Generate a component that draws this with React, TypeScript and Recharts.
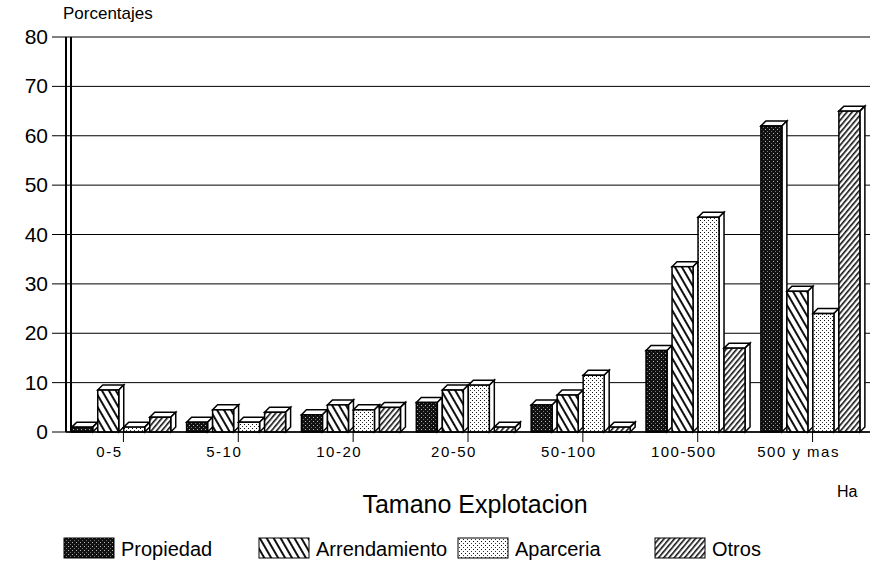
import React from 'react';
import { BarChart, Bar, XAxis, YAxis, CartesianGrid } from 'recharts';

const categories = ['0-5', '5-10', '10-20', '20-50', '50-100', '100-500', '500 y mas'];
const propiedad = [2, 3, 4.5, 7, 6.5, 17.5, 63];
const arrendamiento = [9.5, 5.5, 6.5, 9.5, 8.5, 34.5, 29.5];
const aparceria = [2, 3, 5.5, 10.5, 12.5, 44.5, 25];
const otros = [4, 5, 6, 2, 2, 18, 66];
const yTicks = [0, 10, 20, 30, 40, 50, 60, 70, 80];

const seriesNames = ['Propiedad', 'Arrendamiento', 'Aparceria', 'Otros'];
const seriesKeys = ['propiedad', 'arrendamiento', 'aparceria', 'otros'];
const patternIds = ['patProp', 'patArr', 'patApa', 'patOtr'];

const data = categories.map((c, i) => ({
  cat: c,
  propiedad: propiedad[i],
  arrendamiento: arrendamiento[i],
  aparceria: aparceria[i],
  otros: otros[i],
}));

const FONT = '"Liberation Sans", Arial, sans-serif';
const D = 5;

const Patterns = ({ suffix = '' }: { suffix?: string }) => (
  <defs>
    <pattern id={'patProp' + suffix} width="4" height="4" patternUnits="userSpaceOnUse">
      <rect width="4" height="4" fill="#111" />
      <rect x="1" y="1" width="1" height="1" fill="#bbb" />
      <rect x="3" y="3" width="1" height="1" fill="#777" />
    </pattern>
    <pattern id={'patArr' + suffix} width="6" height="6" patternUnits="userSpaceOnUse" patternTransform="rotate(-30)">
      <rect width="6" height="6" fill="#fff" />
      <rect x="0" y="0" width="2" height="6" fill="#111" />
    </pattern>
    <pattern id={'patApa' + suffix} width="4" height="4" patternUnits="userSpaceOnUse">
      <rect width="4" height="4" fill="#fff" />
      <rect x="0" y="0" width="1" height="1" fill="#111" />
      <rect x="2" y="2" width="1" height="1" fill="#333" />
    </pattern>
    <pattern id={'patOtr' + suffix} width="4" height="4" patternUnits="userSpaceOnUse" patternTransform="rotate(40)">
      <rect width="4" height="4" fill="#fff" />
      <rect x="0" y="0" width="1.6" height="4" fill="#111" />
    </pattern>
  </defs>
);

const make3D = (fillId: string) => (props: any) => {
  const { x, y, width, height } = props;
  if (height == null || height <= 0) return null;
  const fw = width - D;
  const h = height;
  const top = `${x},${y + D} ${x + D},${y} ${x + fw + D},${y} ${x + fw},${y + D}`;
  const side = `${x + fw},${y + D} ${x + fw + D},${y} ${x + fw + D},${y + h - D} ${x + fw},${y + h}`;
  return (
    <g>
      <polygon points={top} fill="#fff" stroke="#000" strokeWidth={1.5} />
      <polygon points={side} fill="#fff" stroke="#000" strokeWidth={1.5} />
      <rect x={x} y={y + D} width={fw} height={h - D} fill={`url(#${fillId})`} stroke="#000" strokeWidth={1.5} />
    </g>
  );
};

const XTick = (props: any) => {
  const { x, y, payload } = props;
  return (
    <text x={x - 14} y={y + 13} textAnchor="middle" fontSize={15} fontFamily={FONT} letterSpacing={1.5} fill="#000">
      {payload.value}
    </text>
  );
};

const YTick = (props: any) => {
  const { x, y, payload } = props;
  return (
    <text x={x - 2} y={y + 7} textAnchor="end" fontSize={21} fontFamily={FONT} fill="#000">
      {payload.value}
    </text>
  );
};

export default function App() {
  return (
    <div style={{ position: 'absolute', left: 0, top: 0, width: 873, height: 574, background: '#fff', fontFamily: FONT }}>
      <div style={{ position: 'absolute', left: 63, top: 4, fontSize: 17, color: '#000' }}>Porcentajes</div>
      <BarChart
        width={873}
        height={470}
        data={data}
        margin={{ top: 37, right: 3, left: 0, bottom: 0 }}
        barGap={0}
        barCategoryGap="5%"
      >
        <Patterns />
        <CartesianGrid horizontal vertical={false} stroke="#000" strokeWidth={1} />
        <XAxis
          dataKey="cat"
          height={38}
          tickSize={10}
          tick={<XTick />}
          axisLine={{ stroke: '#000', strokeWidth: 1.5 }}
          tickLine={{ stroke: '#000' }}
        />
        <YAxis
          width={66}
          domain={[0, 80]}
          ticks={yTicks}
          interval={0}
          tickSize={14}
          tick={<YTick />}
          axisLine={{ stroke: '#000', strokeWidth: 2 }}
          tickLine={{ stroke: '#000' }}
        />
        {seriesKeys.map((k, i) => (
          <Bar key={k} dataKey={k} name={seriesNames[i]} isAnimationActive={false} shape={make3D(patternIds[i])} />
        ))}
      </BarChart>
      <div style={{ position: 'absolute', left: 70, top: 37, width: 1.5, height: 395, background: '#000' }} />
      <div style={{ position: 'absolute', left: 0, width: 950, top: 490, textAlign: 'center', fontSize: 25, color: '#000' }}>
        Tamano Explotacion
      </div>
      <div style={{ position: 'absolute', left: 837, top: 483, fontSize: 16, color: '#000' }}>Ha</div>
      {seriesNames.map((n, i) => {
        const lefts = [63, 258, 457, 654];
        return (
          <div key={n} style={{ position: 'absolute', left: lefts[i], top: 537, display: 'flex', alignItems: 'flex-end' }}>
            <svg width={52} height={22} style={{ display: 'block' }}>
              <Patterns suffix={'L' + i} />
              <rect x={1} y={1} width={50} height={20} fill={`url(#${patternIds[i]}L${i})`} stroke="#000" strokeWidth={1} />
            </svg>
            <span style={{ fontSize: 20, marginLeft: 6, lineHeight: '20px', color: '#000' }}>{n}</span>
          </div>
        );
      })}
    </div>
  );
}
